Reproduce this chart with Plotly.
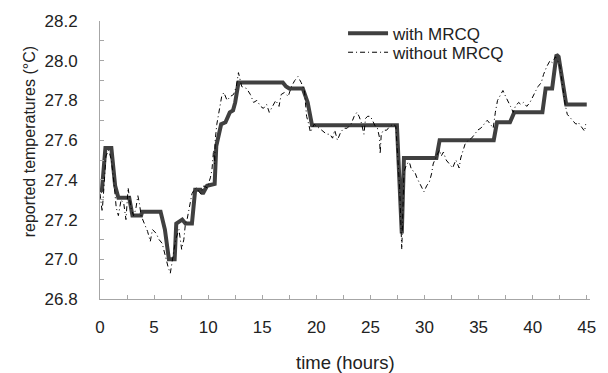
import plotly.graph_objects as go

# with MRCQ (thick step-like line)
t_with = [0, 0.18, 0.5, 1.05, 1.4, 1.7, 2.7, 3.0, 3.8, 3.9, 5.6, 6.0, 6.37, 6.9, 7.05, 7.6, 7.9, 8.5,
          8.8, 9.3, 9.5, 9.9, 10.6, 10.75, 11.2, 11.6, 12.0, 12.3, 12.5, 12.8, 16.9, 17.2, 17.5, 18.75,
          19.2, 19.6, 27.45, 27.9, 28.1, 31.1, 31.4, 36.4, 36.7, 37.9, 38.3, 40.9, 41.2, 41.8,
          42.2, 42.4, 43.1, 45.0]
v_with = [27.34, 27.35, 27.56, 27.56, 27.37, 27.31, 27.31, 27.22, 27.22, 27.24, 27.24, 27.15, 27.0, 27.0,
          27.18, 27.2, 27.18, 27.18, 27.35, 27.35, 27.33, 27.37, 27.38, 27.57, 27.68, 27.69, 27.74,
          27.75, 27.79, 27.89, 27.89, 27.87, 27.86, 27.86, 27.79, 27.675, 27.675, 27.13, 27.51, 27.51,
          27.6, 27.6, 27.69, 27.69, 27.74, 27.74, 27.86, 27.86, 28.03, 28.02, 27.78, 27.78]

# without MRCQ (dash-dot noisy line)
t_without = [0.0, 0.2, 0.35, 0.55, 0.8, 1.05, 1.3, 1.5, 1.7, 1.95, 2.2, 2.4, 2.6, 2.85, 3.1, 3.3, 3.5,
             3.65, 3.8, 4.1, 4.4, 4.65, 4.85, 5.2, 5.45, 5.75, 6.0, 6.3, 6.5, 6.8, 7.0, 7.3, 7.55, 7.75,
             7.9, 8.05, 8.3, 8.5, 8.7, 8.9, 9.3, 9.6, 9.9, 10.2, 10.35, 10.5, 10.6, 10.65, 10.8, 11.05,
             11.25, 11.45, 11.75, 12.05, 12.35, 12.6, 12.8, 13.1, 13.55, 13.9, 14.2, 14.5, 14.85, 15.1,
             15.4, 15.65, 15.95, 16.25, 16.55, 16.75, 17.05, 17.4, 17.7, 18.0, 18.3, 18.6, 18.9, 19.1,
             19.3, 19.45, 19.8, 20.2, 20.5, 20.95, 21.25, 21.5, 21.7, 21.95, 22.25, 22.55, 22.85, 23.2,
             23.5, 23.75, 23.95, 24.15, 24.4, 24.55, 24.75, 25.0, 25.25, 25.45, 25.65, 25.85, 25.9,
             26.0, 26.2, 26.5, 26.8, 27.1, 27.35, 27.7, 27.9, 28.1, 28.35, 28.6, 28.8, 29.1, 29.3,
             29.55, 29.8, 29.95, 30.2, 30.45, 30.65, 30.8, 31.1, 31.4, 31.55, 31.75, 32.0, 32.3, 32.6,
             32.9, 33.2, 33.35, 33.5, 33.75, 34.05, 34.35, 34.65, 34.9, 35.2, 35.5, 35.8, 36.1, 36.35,
             36.55, 36.75, 37.05, 37.25, 37.5, 37.7, 37.95, 38.2, 38.4, 38.7, 38.9, 39.15, 39.45,
             39.75, 40.0, 40.3, 40.5, 40.8, 41.0, 41.3, 41.6, 41.8, 42.1, 42.5, 42.8, 43.0, 43.2,
             43.5, 43.8, 44.0, 44.2, 44.5, 44.8, 44.9]
v_without = [27.33, 27.24, 27.35, 27.52, 27.55, 27.5, 27.38, 27.26, 27.22, 27.3, 27.28, 27.2, 27.36,
             27.26, 27.22, 27.25, 27.32, 27.28, 27.22, 27.18, 27.14, 27.09, 27.15, 27.13, 27.1, 27.08,
             27.02, 26.96, 26.93, 27.02, 27.1, 27.15, 27.05, 27.1, 27.18, 27.2, 27.28, 27.33, 27.35,
             27.36, 27.33, 27.37, 27.36, 27.41, 27.45, 27.55, 27.48, 27.6, 27.68, 27.75, 27.82, 27.84,
             27.8, 27.82, 27.83, 27.87, 27.94, 27.87, 27.86, 27.83, 27.79, 27.8, 27.77, 27.76, 27.78,
             27.74, 27.77, 27.8, 27.77, 27.83, 27.84, 27.82, 27.87, 27.9, 27.92, 27.89, 27.85, 27.72,
             27.68, 27.64, 27.68, 27.66, 27.65, 27.63, 27.63, 27.61, 27.65, 27.6, 27.64, 27.66, 27.66,
             27.68, 27.72, 27.74, 27.72, 27.69, 27.63, 27.71, 27.72, 27.72, 27.69, 27.67, 27.66, 27.61,
             27.53, 27.63, 27.65, 27.65, 27.67, 27.68, 27.67, 27.36, 27.05, 27.44, 27.48, 27.49, 27.45,
             27.44, 27.41, 27.38, 27.35, 27.34, 27.37, 27.39, 27.43, 27.48, 27.52, 27.55, 27.52, 27.54,
             27.5, 27.48, 27.46, 27.5, 27.46, 27.51, 27.54, 27.58, 27.6, 27.61, 27.63, 27.65, 27.66,
             27.68, 27.7, 27.68, 27.66, 27.74, 27.8, 27.83, 27.85, 27.82, 27.8, 27.77, 27.74, 27.77,
             27.79, 27.78, 27.79, 27.77, 27.79, 27.82, 27.85, 27.87, 27.89, 27.93, 27.97, 28.0, 27.99,
             28.02, 27.98, 27.86, 27.78, 27.73, 27.71, 27.69, 27.68, 27.69, 27.67, 27.645, 27.68]

x_ticks = [0, 5, 10, 15, 20, 25, 30, 35, 40, 45]
y_ticks = [26.8, 27.0, 27.2, 27.4, 27.6, 27.8, 28.0, 28.2]

FONT = "Liberation Sans, Arial, sans-serif"
AXIS_COLOR = "#a6a6a6"
TEXT_COLOR = "#222"

fig = go.Figure()
fig.add_trace(go.Scatter(x=t_with, y=v_with, mode="lines", name="with MRCQ",
                         line=dict(color="#404040", width=4), legend="legend"))
fig.add_trace(go.Scatter(x=t_without, y=v_without, mode="lines", name="without MRCQ",
                         line=dict(color="black", width=1, dash="5px,3px,1px,3px"), legend="legend2"))

leg_common = dict(xanchor="left", yanchor="middle", bgcolor="rgba(0,0,0,0)",
                  font=dict(size=17, color=TEXT_COLOR, family=FONT), itemwidth=40)

fig.update_layout(
    width=608, height=373,
    margin=dict(l=100, r=13, t=13, b=74),
    paper_bgcolor="white", plot_bgcolor="white",
    font=dict(family=FONT, size=17, color=TEXT_COLOR),
    showlegend=True,
    legend=dict(x=0.496, y=0.9545, **leg_common),
    legend2=dict(x=0.496, y=0.886, **leg_common),
    xaxis=dict(range=[0, 45.3], tickvals=x_ticks, ticks="inside", ticklen=4, tickcolor=AXIS_COLOR,
               showline=True, linecolor=AXIS_COLOR, linewidth=1, showgrid=False, zeroline=False,
               minor=dict(dtick=2.5, tick0=0, ticks="inside", ticklen=4, tickcolor=AXIS_COLOR),
               tickfont=dict(size=17), ticklabelstandoff=13),
    yaxis=dict(range=[26.8, 28.2], tickvals=y_ticks, tickformat=".1f", ticks="inside", ticklen=4,
               tickcolor=AXIS_COLOR, showline=True, linecolor=AXIS_COLOR, linewidth=1,
               showgrid=False, zeroline=False,
               minor=dict(dtick=0.1, tick0=26.8, ticks="inside", ticklen=4, tickcolor=AXIS_COLOR),
               tickfont=dict(size=17), ticklabelstandoff=18),
    annotations=[
        dict(text="reported temperatures (°C)", xref="paper", yref="paper",
             x=-0.142, y=0.565, xanchor="center", yanchor="middle", textangle=-90,
             showarrow=False, font=dict(size=16, family=FONT, color=TEXT_COLOR)),
        dict(text="time (hours)", xref="paper", yref="paper",
             x=0.5, y=-0.227, xanchor="center", yanchor="middle",
             showarrow=False, font=dict(size=18.5, family=FONT, color=TEXT_COLOR)),
    ],
)

fig.write_html("out.html")
